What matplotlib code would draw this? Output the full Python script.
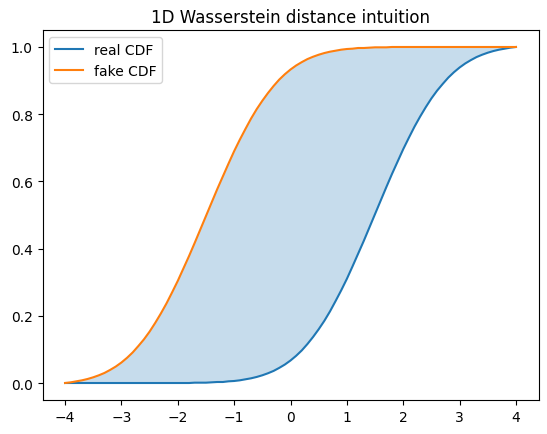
import numpy as np
import matplotlib
matplotlib.use("Agg")
import matplotlib.pyplot as plt

# sample positions and CDF values (step 0.1)
x_vals = [-4.0, -3.9, -3.8, -3.7, -3.6, -3.5, -3.4, -3.3, -3.2, -3.1,
          -3.0, -2.9, -2.8, -2.7, -2.6, -2.5, -2.4, -2.3, -2.2, -2.1,
          -2.0, -1.9, -1.8, -1.7, -1.6, -1.5, -1.4, -1.3, -1.2, -1.1,
          -1.0, -0.9, -0.8, -0.7, -0.6, -0.5, -0.4, -0.3, -0.2, -0.1,
          0.0, 0.1, 0.2, 0.3, 0.4, 0.5, 0.6, 0.7, 0.8, 0.9,
          1.0, 1.1, 1.2, 1.3, 1.4, 1.5, 1.6, 1.7, 1.8, 1.9,
          2.0, 2.1, 2.2, 2.3, 2.4, 2.5, 2.6, 2.7, 2.8, 2.9,
          3.0, 3.1, 3.2, 3.3, 3.4, 3.5, 3.6, 3.7, 3.8, 3.9,
          4.0]

real_cdf = [0.000, 0.000, 0.000, 0.000, 0.000, 0.000, 0.000, 0.000, 0.000, 0.000,
            0.000, 0.000, 0.000, 0.000, 0.000, 0.000, 0.000, 0.000, 0.000, 0.000,
            0.000, 0.000, 0.000, 0.001, 0.001, 0.001, 0.002, 0.003, 0.003, 0.005,
            0.006, 0.008, 0.011, 0.014, 0.018, 0.023, 0.029, 0.036, 0.045, 0.055,
            0.067, 0.081, 0.097, 0.116, 0.137, 0.160, 0.185, 0.213, 0.244, 0.276,
            0.310, 0.347, 0.385, 0.423, 0.463, 0.503, 0.543, 0.583, 0.622, 0.659,
            0.696, 0.730, 0.763, 0.793, 0.821, 0.847, 0.870, 0.890, 0.909, 0.925,
            0.939, 0.951, 0.961, 0.970, 0.977, 0.983, 0.988, 0.992, 0.995, 0.998,
            1.000]

fake_cdf = [0.000, 0.002, 0.005, 0.008, 0.012, 0.017, 0.023, 0.030, 0.039, 0.049,
            0.061, 0.075, 0.091, 0.110, 0.130, 0.153, 0.179, 0.207, 0.237, 0.270,
            0.304, 0.341, 0.378, 0.417, 0.457, 0.497, 0.537, 0.577, 0.615, 0.653,
            0.690, 0.724, 0.756, 0.787, 0.815, 0.840, 0.863, 0.884, 0.903, 0.919,
            0.933, 0.945, 0.955, 0.964, 0.971, 0.977, 0.982, 0.986, 0.989, 0.992,
            0.994, 0.995, 0.997, 0.997, 0.998, 0.999, 0.999, 0.999, 1.000, 1.000,
            1.000, 1.000, 1.000, 1.000, 1.000, 1.000, 1.000, 1.000, 1.000, 1.000,
            1.000, 1.000, 1.000, 1.000, 1.000, 1.000, 1.000, 1.000, 1.000, 1.000,
            1.000]

fig = plt.figure(figsize=(5.47, 4.35), dpi=100)
ax = fig.add_axes([0.0777, 0.0786, 0.9068, 0.8497])

ax.plot(x_vals, real_cdf, label="real CDF")
ax.plot(x_vals, fake_cdf, label="fake CDF")
ax.fill_between(x_vals, real_cdf, fake_cdf, alpha=0.25)
ax.set_title("1D Wasserstein distance intuition")
ax.legend(loc="upper left")

fig.savefig("out.png", dpi=100)
